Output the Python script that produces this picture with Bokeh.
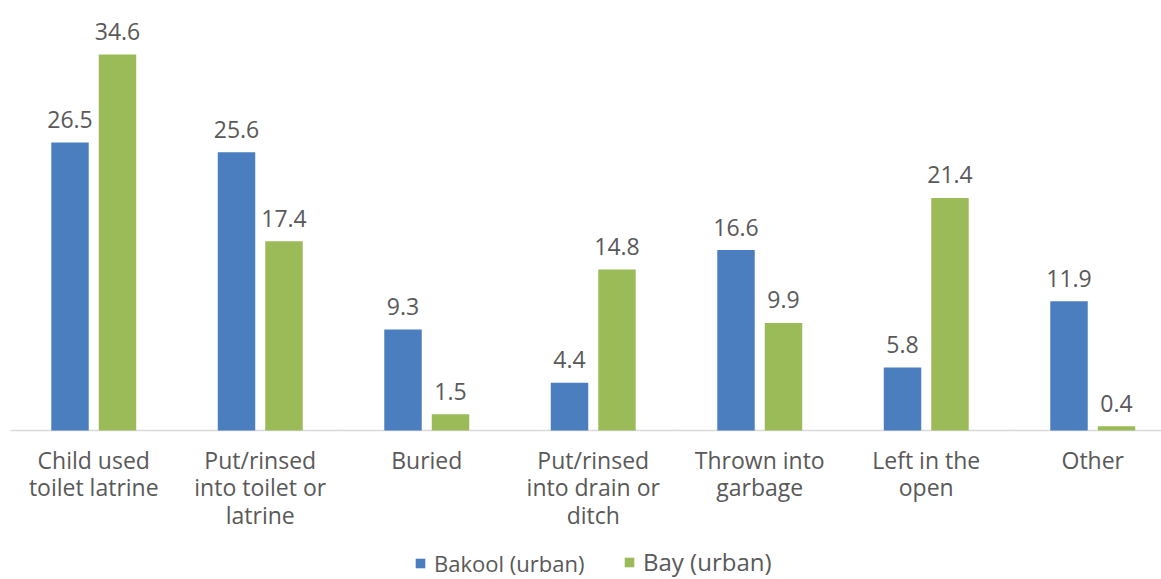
from bokeh.plotting import figure
from bokeh.models import Range1d, ColumnDataSource, Legend, LegendItem
from bokeh.core.properties import value
from bokeh.embed import file_html
from bokeh.resources import INLINE

# Disposal method of child stool, % of households
categories = [
    "Child used\ntoilet latrine",
    "Put/rinsed\ninto toilet or\nlatrine",
    "Buried",
    "Put/rinsed\ninto drain or\nditch",
    "Thrown into\ngarbage",
    "Left in the\nopen",
    "Other",
]
bakool_urban = [26.5, 25.6, 9.3, 4.4, 16.6, 5.8, 11.9]
bay_urban = [34.6, 17.4, 1.5, 14.8, 9.9, 21.4, 0.4]
series_names = ["Bakool (urban)", "Bay (urban)"]

BLUE = "#4A7EBF"
GREEN = "#9BBB59"
TEXT = "#595959"
FONT = value("Open Sans")

W, H = 1161, 579
PX_PER_CAT = 166.5
PX_PER_UNIT = 10.87
BASE_PX = 430   # pixel row of the zero line
LEFT_PX = 10

centers = [i + 0.5 for i in range(len(categories))]
offset = 0.1426
bar_w = 0.225

x_start = -LEFT_PX / PX_PER_CAT
x_end = (W - LEFT_PX) / PX_PER_CAT
y_start = -(H - BASE_PX) / PX_PER_UNIT
y_end = BASE_PX / PX_PER_UNIT

p = figure(
    width=W, height=H,
    x_range=Range1d(x_start, x_end), y_range=Range1d(y_start, y_end),
    x_axis_location=None, y_axis_location=None,
    output_backend="svg", toolbar_location=None,
    min_border=0, outline_line_color=None,
    background_fill_color="white", border_fill_color="white",
)
p.grid.visible = False

src = ColumnDataSource(dict(
    cat=categories,
    xc=centers,
    xb=[c - offset for c in centers],
    xg=[c + offset for c in centers],
    bakool=bakool_urban,
    bay=bay_urban,
    bakool_lbl=[f"{v:.1f}" for v in bakool_urban],
    bay_lbl=[f"{v:.1f}" for v in bay_urban],
    zero=[0] * len(categories),
    left=[c - 0.5 for c in centers],
    right=[c + 0.5 for c in centers],
))

# zero line
p.segment(x0="left", y0="zero", x1="right", y1="zero", source=src,
          line_color="#D9D9D9", line_width=1.5)

rb = p.vbar(x="xb", top="bakool", width=bar_w, source=src, fill_color=BLUE, line_color=None)
rg = p.vbar(x="xg", top="bay", width=bar_w, source=src, fill_color=GREEN, line_color=None)

# value labels
for xcol, ycol, tcol in (("xb", "bakool", "bakool_lbl"), ("xg", "bay", "bay_lbl")):
    p.text(x=xcol, y=ycol, text=tcol, source=src, text_font=FONT,
           text_font_size="23px", text_color=TEXT, text_align="center",
           text_baseline="alphabetic", y_offset=-23)

# category labels under the zero line
p.text(x="xc", y="zero", text="cat", source=src, text_font=FONT,
       text_font_size="23px", text_color=TEXT, text_align="center",
       text_baseline="top", y_offset=13, text_line_height=0.87)

# legend: one entry per series, each with its own label size
for renderer, name, xloc, size in ((rb, series_names[0], 414, "22px"),
                                   (rg, series_names[1], 623, "24px")):
    lg = Legend(items=[LegendItem(label=name, renderers=[renderer])],
                location=(xloc, 1), orientation="horizontal",
                border_line_color=None, background_fill_alpha=0,
                padding=0, margin=0, spacing=0,
                glyph_width=12, glyph_height=12, label_standoff=8,
                label_text_font="Open Sans", label_text_font_size=size,
                label_text_color=TEXT, label_height=12)
    p.add_layout(lg, "center")

open("out.html", "w").write(file_html(p, INLINE))
